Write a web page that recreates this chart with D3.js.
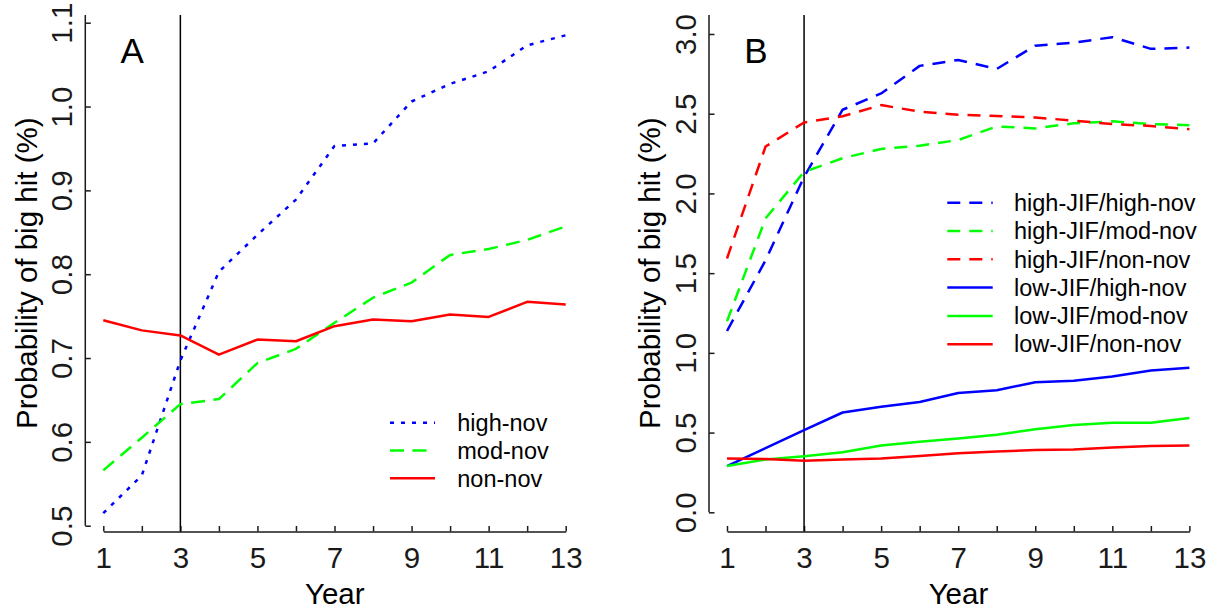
<!DOCTYPE html>
<html>
<head>
<meta charset="utf-8">
<script src="https://cdn.jsdelivr.net/npm/d3@7"></script>
<style>
  body { margin: 0; background: #fff; }
  svg { display: block; font-family: "Liberation Sans", Arial, sans-serif; }
</style>
</head>
<body>
<svg id="chart" width="1210" height="609"></svg>
<script>
// ---- data ----
const years = [1, 2, 3, 4, 5, 6, 7, 8, 9, 10, 11, 12, 13];
const markYear = 3;
const xLabelYears = [1, 3, 5, 7, 9, 11, 13];

const ticksA = [0.5, 0.6, 0.7, 0.8, 0.9, 1.0, 1.1];
const ticksB = [0.0, 0.5, 1.0, 1.5, 2.0, 2.5, 3.0];

// Panel A
const highNov = [0.515, 0.560, 0.697, 0.803, 0.847, 0.889, 0.953, 0.956, 1.006, 1.027, 1.042, 1.073, 1.085];
const modNov  = [0.566, 0.605, 0.645, 0.651, 0.694, 0.711, 0.742, 0.772, 0.790, 0.823, 0.830, 0.841, 0.857];
const nonNov  = [0.745, 0.733, 0.727, 0.704, 0.722, 0.720, 0.738, 0.746, 0.744, 0.752, 0.749, 0.767, 0.764];

// Panel B
const hiJifHighNov = [1.137, 1.580, 2.104, 2.525, 2.627, 2.800, 2.837, 2.781, 2.927, 2.946, 2.980, 2.907, 2.915];
const hiJifModNov  = [1.198, 1.843, 2.135, 2.221, 2.279, 2.299, 2.335, 2.420, 2.408, 2.440, 2.452, 2.435, 2.428];
const hiJifNonNov  = [1.592, 2.294, 2.445, 2.484, 2.554, 2.513, 2.493, 2.486, 2.476, 2.457, 2.435, 2.423, 2.403];
const loJifHighNov = [0.290, 0.402, 0.516, 0.626, 0.662, 0.692, 0.748, 0.765, 0.816, 0.825, 0.852, 0.889, 0.906];
const loJifModNov  = [0.290, 0.331, 0.351, 0.377, 0.419, 0.443, 0.463, 0.487, 0.521, 0.548, 0.562, 0.562, 0.592];
const loJifNonNov  = [0.338, 0.334, 0.324, 0.331, 0.338, 0.353, 0.370, 0.382, 0.390, 0.394, 0.407, 0.416, 0.419];

const BLUE = '#0000ff', GREEN = '#00ff00', RED = '#ff0000';
const DOT = '4,7', DASH_A = '14,8.5', DASH_B = '13,9';

const seriesA = [
  { name: 'high-nov', values: highNov, color: BLUE,  dash: DOT },
  { name: 'mod-nov',  values: modNov,  color: GREEN, dash: DASH_A },
  { name: 'non-nov',  values: nonNov,  color: RED,   dash: null }
];
const seriesB = [
  { name: 'high-JIF/high-nov', values: hiJifHighNov, color: BLUE,  dash: DASH_B },
  { name: 'high-JIF/mod-nov',  values: hiJifModNov,  color: GREEN, dash: DASH_B },
  { name: 'high-JIF/non-nov',  values: hiJifNonNov,  color: RED,   dash: DASH_B },
  { name: 'low-JIF/high-nov',  values: loJifHighNov, color: BLUE,  dash: null },
  { name: 'low-JIF/mod-nov',   values: loJifModNov,  color: GREEN, dash: null },
  { name: 'low-JIF/non-nov',   values: loJifNonNov,  color: RED,   dash: null }
];

const svg = d3.select('#chart');
const FONT = 29.5;
const AXIS_COLOR = '#1a1a1a';
const PLOT_TOP = 15, AXIS_Y = 531.5;

function drawPanel(opt) {
  const g = svg.append('g');
  const x = d3.scaleLinear().domain([1, 13]).range([opt.x1, opt.x1 + 462.4]);
  const y = d3.scaleLinear().domain(opt.yDomain).range(opt.yRange);

  // x axis (inward ticks, labels on odd years)
  const xAxis = g.append('g')
    .attr('transform', `translate(0,${AXIS_Y})`)
    .call(d3.axisBottom(x).tickValues(years)
      .tickFormat(d => xLabelYears.includes(d) ? d : '')
      .tickSizeInner(-5.5).tickSizeOuter(0).tickPadding(15.5));
  xAxis.attr('font-size', FONT).attr('font-family', null).style('color', AXIS_COLOR);
  xAxis.selectAll('path, line').attr('stroke-width', 1.5);

  // y axis, labels rotated parallel to the axis
  const yAxisX = opt.x1 - 18;
  const yAxis = g.append('g')
    .attr('transform', `translate(${yAxisX},0)`)
    .call(d3.axisLeft(y).tickValues(opt.ticks).tickFormat(d3.format('.1f'))
      .tickSizeInner(-5.5).tickSizeOuter(0));
  yAxis.attr('font-size', FONT).attr('font-family', null).style('color', AXIS_COLOR);
  yAxis.select('.domain').remove();
  yAxis.selectAll('line').attr('stroke-width', 1.5);
  yAxis.selectAll('.tick text')
    .attr('x', null).attr('dy', null)
    .attr('text-anchor', 'middle')
    .attr('transform', 'translate(-13.3,0) rotate(-90)');
  yAxis.append('line')
    .attr('x1', 0).attr('x2', 0)
    .attr('y1', PLOT_TOP).attr('y2', y(opt.ticks[0]))
    .attr('stroke', AXIS_COLOR).attr('stroke-width', 1.5);

  // axis titles
  g.append('text')
    .attr('transform', `translate(${yAxisX - 48.8},${(PLOT_TOP + AXIS_Y) / 2}) rotate(-90)`)
    .attr('text-anchor', 'middle').attr('font-size', FONT).attr('fill', '#000')
    .text('Probability of big hit (%)');
  g.append('text')
    .attr('x', (yAxisX + x(13) + 18.5) / 2).attr('y', 604.3)
    .attr('text-anchor', 'middle').attr('font-size', FONT).attr('fill', '#000')
    .text('Year');

  // panel letter
  g.append('text')
    .attr('x', yAxisX + 47).attr('y', 62.5)
    .attr('text-anchor', 'middle').attr('font-size', 35).attr('fill', '#000')
    .text(opt.letter);

  // reference line at year 3
  g.append('line')
    .attr('x1', x(markYear)).attr('x2', x(markYear))
    .attr('y1', PLOT_TOP).attr('y2', AXIS_Y)
    .attr('stroke', '#000').attr('stroke-width', 1.5);

  // series
  const line = d3.line().x((d, i) => x(years[i])).y(d => y(d));
  g.selectAll('path.series')
    .data(opt.series)
    .join('path')
    .attr('class', 'series')
    .attr('d', d => line(d.values))
    .attr('fill', 'none')
    .attr('stroke', d => d.color)
    .attr('stroke-width', 2.5)
    .attr('stroke-linejoin', 'round')
    .attr('stroke-dasharray', d => d.dash);

  // legend
  const lg = g.append('g');
  opt.series.forEach((s, i) => {
    const ly = opt.legend.y + i * opt.legend.step;
    lg.append('line')
      .attr('x1', opt.legend.x).attr('x2', opt.legend.x + opt.legend.len)
      .attr('y1', ly).attr('y2', ly)
      .attr('stroke', s.color).attr('stroke-width', 2.5)
      .attr('stroke-dasharray', s.dash);
    lg.append('text')
      .attr('x', opt.legend.tx).attr('y', ly).attr('dy', '0.35em')
      .attr('font-size', 23.5).attr('fill', '#000')
      .text(s.name);
  });
}

drawPanel({
  letter: 'A', x1: 103.3,
  yDomain: [0.5, 1.1], yRange: [525.7, 22.7], ticks: ticksA,
  series: seriesA,
  legend: { x: 390, len: 45, tx: 457.3, y: 422.7, step: 27.8 }
});

drawPanel({
  letter: 'B', x1: 727,
  yDomain: [0, 3], yRange: [512.3, 34], ticks: ticksB,
  series: seriesB,
  legend: { x: 947.3, len: 45.4, tx: 1014, y: 202.7, step: 28.3 }
});
</script>
</body>
</html>
